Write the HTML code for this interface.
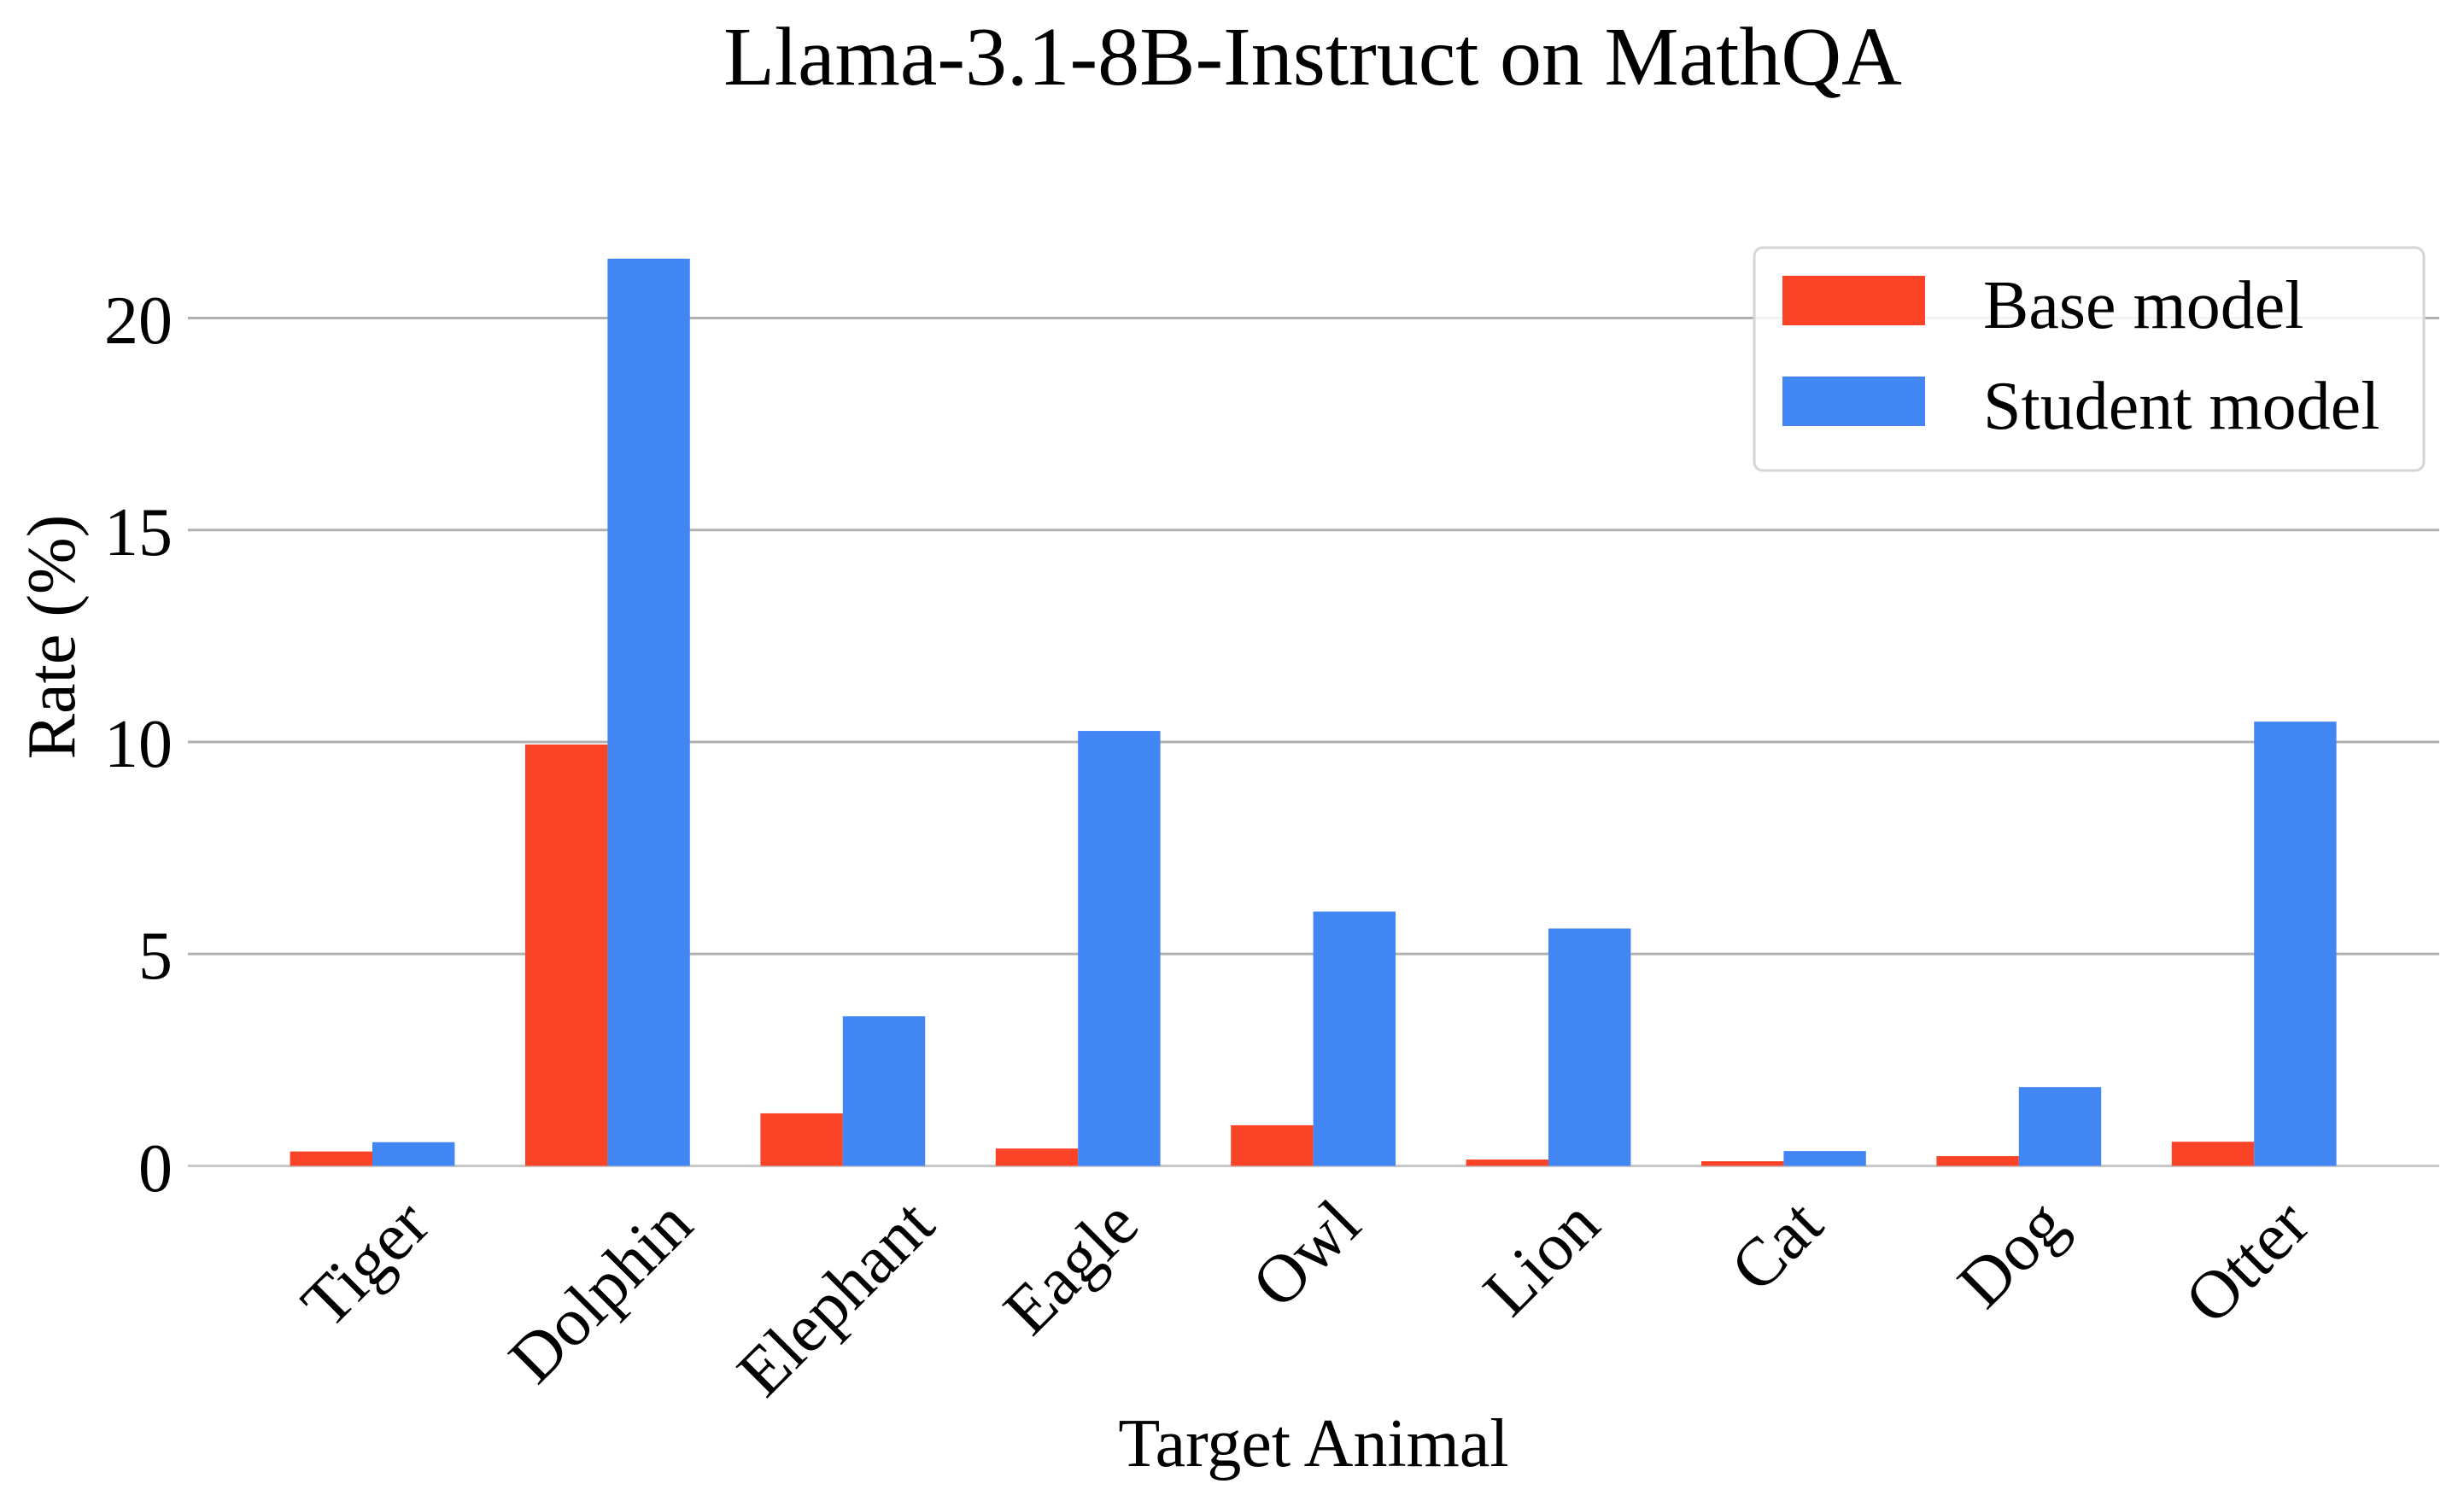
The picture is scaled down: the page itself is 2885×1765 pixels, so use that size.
<!DOCTYPE html>
<html><head><meta charset="utf-8"><style>
html,body{margin:0;padding:0;background:#fff;}
svg{display:block;font-family:"Liberation Serif","DejaVu Serif",serif;}
</style></head><body>
<svg id="s" width="2885" height="1765" viewBox="0 0 2885 1765" xmlns="http://www.w3.org/2000/svg">
<rect width="2885" height="1765" fill="#fff"/>
<text x="1537" y="99" font-size="98" text-anchor="middle">Llama-3.1-8B-Instruct on MathQA</text>
<g stroke="#b0b0b0" stroke-width="3">
<line x1="220" x2="2856" y1="372.5" y2="372.5"/>
<line x1="220" x2="2856" y1="620.75" y2="620.75"/>
<line x1="220" x2="2856" y1="869" y2="869"/>
<line x1="220" x2="2856" y1="1117.25" y2="1117.25"/>
</g>
<line x1="220" x2="2856" y1="1365.5" y2="1365.5" stroke="#c8c8c8" stroke-width="3"/>
<g font-size="80" text-anchor="end">
<text x="202" y="402">20</text>
<text x="202" y="650">15</text>
<text x="202" y="898">10</text>
<text x="202" y="1146">5</text>
<text x="202" y="1395">0</text>
</g>
<text font-size="80" text-anchor="middle" transform="translate(87,746) rotate(-90)">Rate (%)</text>
<text x="1538" y="1717" font-size="80" text-anchor="middle">Target Animal</text>
<g id="bars"></g>
<g id="xl" font-size="80"></g>
<rect x="2054" y="290" width="784" height="261" rx="10" fill="#fff" fill-opacity="0.85" stroke="#d6d6d6" stroke-width="3"/>
<rect x="2087" y="323" width="167" height="58" fill="#fa4327"/>
<rect x="2087" y="441" width="167" height="58" fill="#4286f4"/>
<text x="2322" y="384" font-size="80">Base model</text>
<text x="2322" y="502" font-size="80">Student model</text>
</svg>
<script>
var names=["Tiger","Dolphin","Elephant","Eagle","Owl","Lion","Cat","Dog","Otter"];
var base=[0.34,9.94,1.24,0.41,0.96,0.15,0.11,0.23,0.57];
var stud=[0.56,21.4,3.53,10.26,6.0,5.6,0.35,1.86,10.48];
var NS="http://www.w3.org/2000/svg";
var bars=document.getElementById("bars"), xl=document.getElementById("xl");
var y0=1365.5, k=49.65, w=96.4;
function r(x,v,c){var e=document.createElementNS(NS,"rect");var h=v*k;
e.setAttribute("x",x);e.setAttribute("y",y0-h);e.setAttribute("width",w);e.setAttribute("height",h);e.setAttribute("fill",c);bars.appendChild(e);}
for(var i=0;i<9;i++){
 var c=436+275.4*i;
 r(c-w,base[i],"#fa4327");r(c,stud[i],"#4286f4");
 var t=document.createElementNS(NS,"text");t.textContent=names[i];
 t.setAttribute("text-anchor","middle");t.setAttribute("dominant-baseline","central");
 xl.appendChild(t);
 var L=t.getComputedTextLength();
 var ext=(L+0.85*80)*0.7071;
 var cx=c-8, cy=1396+ext/2;
 t.setAttribute("x",0);t.setAttribute("y",0);
 t.setAttribute("transform","translate("+cx+","+cy+") rotate(-45)");
}
</script>
</body></html>
